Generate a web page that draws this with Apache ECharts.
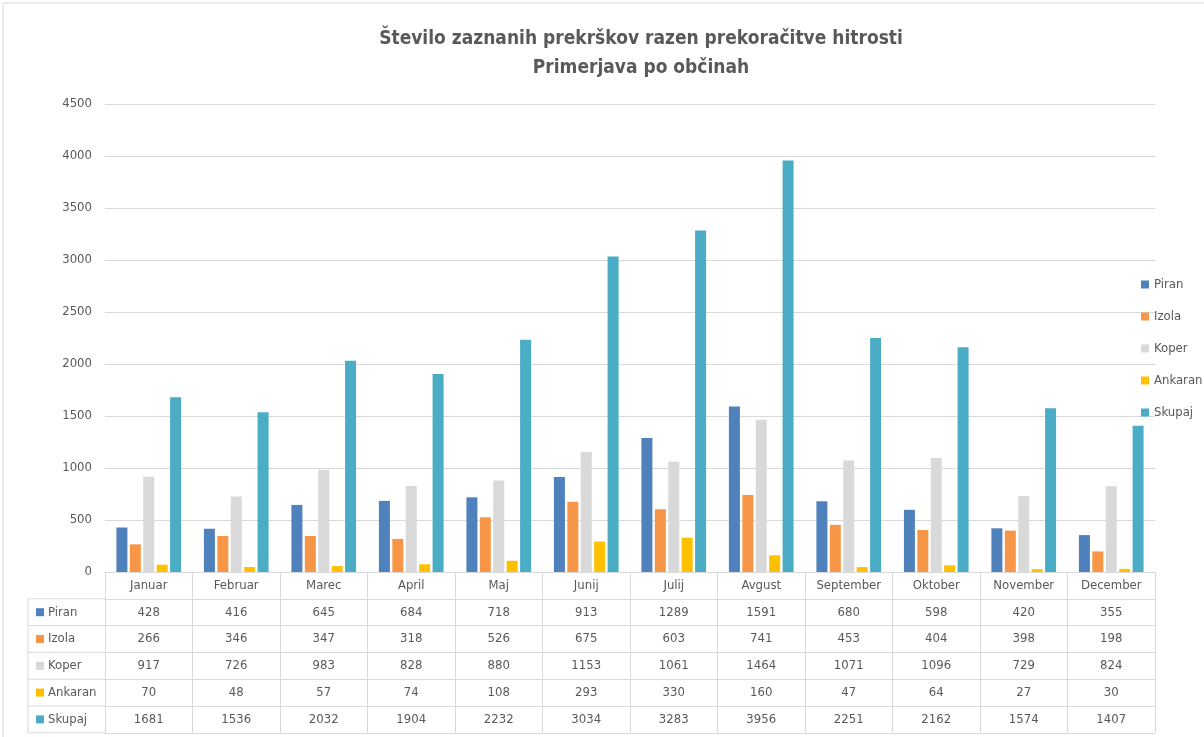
<!DOCTYPE html>
<html>
<head>
<meta charset="utf-8">
<script src="https://cdn.jsdelivr.net/npm/echarts@6/dist/echarts.min.js"></script>
<style>
  html, body { margin: 0; padding: 0; background: #fff; }
  #chart { width: 1204px; height: 737px; }
</style>
</head>
<body>
<div id="chart"></div>
<script>
const months = ['Januar', 'Februar', 'Marec', 'April', 'Maj', 'Junij', 'Julij', 'Avgust', 'September', 'Oktober', 'November', 'December']
const seriesNames = ['Piran', 'Izola', 'Koper', 'Ankaran', 'Skupaj']
const piran = [428, 416, 645, 684, 718, 913, 1289, 1591, 680, 598, 420, 355]
const izola = [266, 346, 347, 318, 526, 675, 603, 741, 453, 404, 398, 198]
const koper = [917, 726, 983, 828, 880, 1153, 1061, 1464, 1071, 1096, 729, 824]
const ankaran = [70, 48, 57, 74, 108, 293, 330, 160, 47, 64, 27, 30]
const skupaj = [1681, 1536, 2032, 1904, 2232, 3034, 3283, 3956, 2251, 2162, 1574, 1407]
const yTicks = [0, 500, 1000, 1500, 2000, 2500, 3000, 3500, 4000, 4500]

const rows = [piran, izola, koper, ankaran, skupaj]
const colors = ['#4f81bd', '#f79646', '#d9d9d9', '#ffc000', '#4bacc6']
const font = '"Liberation Sans Narrow", "DejaVu Sans Condensed", sans-serif'
const textColor = '#595959'
const lineColor = '#d9d9d9'

// plot area
const plotLeft = 105, plotRight = 1155, plotTop = 104, plotBottom = 572
const rowH = 26.8

let myChart = echarts.init(document.getElementById('chart'))

// one x axis per table row; ticks make the cell borders
let xAxes = []
for (let r = 0; r <= 6; r++) {
  xAxes.push({
    type: 'category',
    data: months,
    position: 'bottom',
    offset: r * rowH,
    axisLine: { show: true, lineStyle: { color: lineColor, width: 1 } },
    axisTick: { show: r < 6, interval: 0, length: rowH, lineStyle: { color: lineColor } },
    axisLabel: {
      show: r < 6,
      interval: 0,
      margin: 7,
      color: textColor,
      fontFamily: font,
      fontSize: 13,
      formatter: function (v, i) { return r === 0 ? v : String(rows[r - 1][i]) }
    },
    splitLine: { show: false }
  })
}

// left column of the data table
let graphics = [
  { type: 'rect', shape: { x: 3, y: 3, width: 1240, height: 760 }, style: { fill: 'none', stroke: lineColor, lineWidth: 1 }, silent: true },
  { type: 'line', shape: { x1: 28, y1: plotBottom + rowH, x2: 28, y2: plotBottom + 6 * rowH }, style: { stroke: lineColor, lineWidth: 1 } }
]
for (let i = 0; i < 5; i++) {
  let y0 = plotBottom + rowH * (i + 1)
  graphics.push({ type: 'line', shape: { x1: 28, y1: y0, x2: plotLeft, y2: y0 }, style: { stroke: lineColor, lineWidth: 1 } })
  graphics.push({ type: 'rect', shape: { x: 36, y: y0 + rowH / 2 - 4, width: 8, height: 8 }, style: { fill: colors[i] } })
  graphics.push({ type: 'text', x: 48, y: y0 + rowH / 2, style: { text: seriesNames[i], fill: textColor, font: '13px ' + font, verticalAlign: 'middle' } })
}
graphics.push({ type: 'line', shape: { x1: 28, y1: plotBottom + 6 * rowH, x2: plotLeft, y2: plotBottom + 6 * rowH }, style: { stroke: lineColor, lineWidth: 1 } })

let option = {
  animation: false,
  color: colors,
  title: {
    text: 'Število zaznanih prekrškov razen prekoračitve hitrosti\nPrimerjava po občinah',
    left: 636,
    textAlign: 'center',
    top: 20,
    textStyle: { color: textColor, fontFamily: font, fontSize: 19, fontWeight: 'bold', lineHeight: 29 }
  },
  legend: {
    orient: 'vertical',
    left: 1136,
    top: 273,
    itemWidth: 8,
    itemHeight: 8,
    itemGap: 19,
    icon: 'rect',
    data: seriesNames,
    textStyle: { color: textColor, fontFamily: font, fontSize: 13 }
  },
  grid: { left: plotLeft, right: 1204 - plotRight, top: plotTop, bottom: 737 - plotBottom, containLabel: false },
  xAxis: xAxes,
  yAxis: {
    type: 'value',
    min: yTicks[0],
    max: yTicks[yTicks.length - 1],
    interval: 500,
    axisLine: { show: false },
    axisTick: { show: false },
    axisLabel: { color: textColor, fontFamily: font, fontSize: 13, margin: 13, formatter: function (v) { return String(v) } },
    splitLine: { lineStyle: { color: lineColor, width: 1 } }
  },
  graphic: graphics,
  series: seriesNames.map(function (name, i) {
    return {
      name: name,
      type: 'bar',
      xAxisIndex: 0,
      barWidth: 11,
      barGap: '22%',
      data: rows[i]
    }
  })
}

myChart.setOption(option)
</script>
</body>
</html>
